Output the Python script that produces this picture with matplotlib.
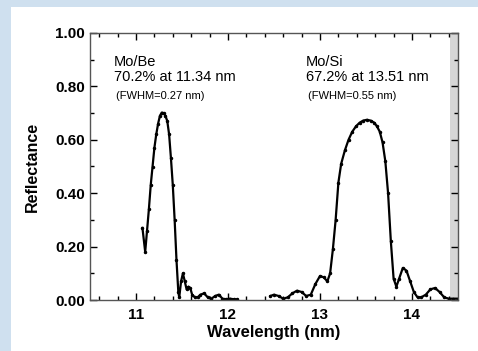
import numpy as np
import matplotlib
matplotlib.use('Agg')
import matplotlib.pyplot as plt
from matplotlib.patches import Rectangle
from matplotlib.ticker import MultipleLocator

plt.rcParams['font.family'] = ['Liberation Sans', 'DejaVu Sans']

# Mo/Be reflectance curve
wl_be = [11.07, 11.10, 11.12, 11.14, 11.16, 11.18, 11.20, 11.22, 11.24, 11.26,
         11.28, 11.30, 11.32, 11.34, 11.36, 11.38, 11.40, 11.42, 11.44, 11.46,
         11.47, 11.49, 11.51, 11.53, 11.55, 11.57, 11.59, 11.61, 11.64, 11.67,
         11.70, 11.74, 11.78, 11.82, 11.86, 11.90, 11.94, 11.98, 12.02, 12.06, 12.10]
r_be = [0.27, 0.18, 0.26, 0.34, 0.43, 0.50, 0.57, 0.62, 0.66, 0.69,
        0.702, 0.70, 0.69, 0.67, 0.62, 0.53, 0.43, 0.30, 0.15, 0.03,
        0.01, 0.07, 0.10, 0.07, 0.04, 0.05, 0.045, 0.02, 0.01, 0.01,
        0.02, 0.025, 0.01, 0.005, 0.015, 0.02, 0.005, 0.003, 0.005, 0.003, 0.002]

# Mo/Si reflectance curve
wl_si = [12.46, 12.50, 12.55, 12.60, 12.65, 12.70, 12.75, 12.80, 12.85, 12.90,
         12.95, 13.00, 13.04, 13.08, 13.11, 13.14, 13.17, 13.20, 13.23, 13.27,
         13.31, 13.35, 13.39, 13.43, 13.47, 13.51, 13.55, 13.59, 13.62, 13.65,
         13.68, 13.71, 13.74, 13.77, 13.80, 13.83, 13.86, 13.90, 13.94, 13.98,
         14.02, 14.06, 14.10, 14.15, 14.20, 14.25, 14.30, 14.35, 14.40, 14.45, 14.50]
r_si = [0.015, 0.02, 0.015, 0.005, 0.01, 0.025, 0.035, 0.03, 0.015, 0.02,
        0.06, 0.09, 0.085, 0.07, 0.10, 0.19, 0.30, 0.44, 0.51, 0.56,
        0.60, 0.63, 0.65, 0.664, 0.672, 0.675, 0.672, 0.664, 0.65, 0.63,
        0.59, 0.52, 0.40, 0.22, 0.08, 0.05, 0.08, 0.12, 0.11, 0.07,
        0.03, 0.01, 0.01, 0.02, 0.04, 0.045, 0.03, 0.01, 0.005, 0.005, 0.005]

fig = plt.figure(figsize=(4.78, 3.51), dpi=100, facecolor='#cfe0ef')
fig.patches.append(Rectangle((11 / 478, 0), 1, 1 - 7 / 351, transform=fig.transFigure,
                             facecolor='white', edgecolor='none', zorder=-10))
ax = fig.add_axes([90 / 478, 51 / 351, 368 / 478, 267 / 351])
ax.set_facecolor('white')

ax.axvspan(14.41, 14.5, color='#d6d6d6', lw=0, zorder=0)
ax.plot(wl_be, r_be, color='black', lw=1.6, marker='.', ms=3)
ax.plot(wl_si, r_si, color='black', lw=1.6, marker='.', ms=3)

ax.set_xlim(10.5, 14.5)
ax.set_ylim(0, 1.0)
ax.xaxis.set_major_locator(MultipleLocator(1))
ax.xaxis.set_minor_locator(MultipleLocator(0.2))
ax.yaxis.set_major_locator(MultipleLocator(0.2))
ax.yaxis.set_minor_locator(MultipleLocator(0.1))
ax.yaxis.set_major_formatter(lambda v, p: f'{v:.2f}')
ax.tick_params(which='both', direction='in', top=True, right=True, labelsize=11)
ax.tick_params(which='major', length=5, width=1)
ax.tick_params(which='minor', length=3, width=1)
ax.tick_params(axis='x', pad=6)
for lab in ax.get_xticklabels() + ax.get_yticklabels():
    lab.set_fontweight('bold')
for s in ax.spines.values():
    s.set_linewidth(1.0)
    s.set_color('#555555')

ax.set_xlabel('Wavelength (nm)', fontsize=12, fontweight='bold', labelpad=2)
ax.set_ylabel('Reflectance', fontsize=11.5, fontweight='bold', labelpad=11)

ax.text(10.76, 0.89, 'Mo/Be', fontsize=10.5, va='center')
ax.text(10.76, 0.835, '70.2% at 11.34 nm', fontsize=10.5, va='center')
ax.text(10.78, 0.765, '(FWHM=0.27 nm)', fontsize=8, va='center')
ax.text(12.85, 0.89, 'Mo/Si', fontsize=10.5, va='center')
ax.text(12.85, 0.835, '67.2% at 13.51 nm', fontsize=10.5, va='center')
ax.text(12.87, 0.765, '(FWHM=0.55 nm)', fontsize=8, va='center')

fig.savefig('out.png', dpi=100, facecolor=fig.get_facecolor())
